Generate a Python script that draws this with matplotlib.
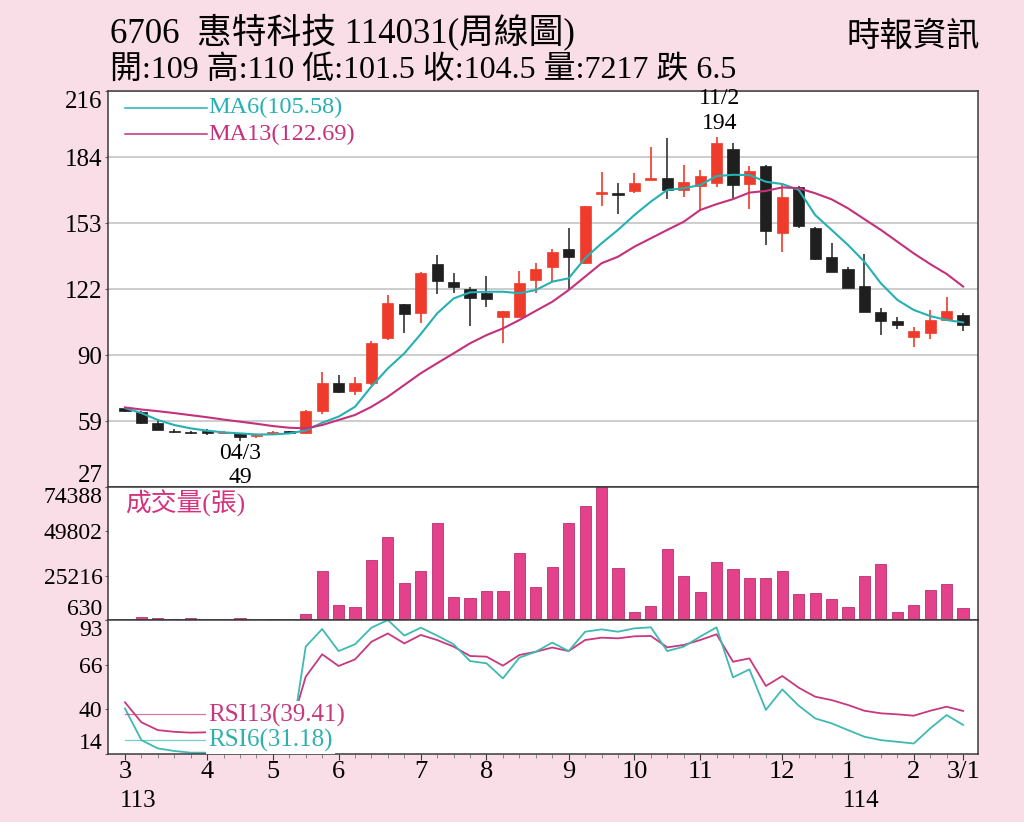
import numpy as np
import matplotlib
matplotlib.use("Agg")
import matplotlib.pyplot as plt
import matplotlib.transforms as mtransforms

plt.rcParams.update({
    "font.family": ["Liberation Serif", "Noto Sans CJK TC", "DejaVu Sans"],
})

# ---- data (weekly, 113/3 .. 114/3) ----
opens = [64.6, 62.9, 57.7, 53.8, 53.1, 53.2, 52.9, 52.6, 51.2, 52.2, 53.3, 53.0, 63.4,
         76.5, 73.0, 76.8, 98.3, 114.3, 109.9, 133.3, 125.0, 121.4, 119.4, 108.3, 108.3,
         125.8, 132.2, 140.4, 134.0, 167.0, 167.0, 168.4, 173.7, 174.7, 168.8, 170.7,
         172.2, 188.3, 171.6, 180.0, 148.4, 170.0, 150.8, 136.6, 130.9, 123.0, 110.4,
         106.2, 98.4, 100.4, 106.7, 109.0]
highs = [65.0, 63.5, 59.3, 54.5, 53.6, 54.5, 53.6, 53.0, 51.8, 53.8, 53.8, 63.6, 82.0,
         80.5, 79.3, 96.8, 118.6, 114.5, 129.5, 137.7, 129.3, 122.3, 127.7, 111.1, 130.3,
         134.0, 140.4, 150.5, 161.3, 177.5, 172.2, 177.0, 189.5, 193.5, 180.6, 178.3,
         194.0, 191.3, 180.0, 180.5, 172.2, 170.5, 151.0, 143.6, 131.8, 138.2, 112.3,
         108.0, 103.5, 111.5, 117.5, 110.0]
lows = [63.0, 57.0, 54.0, 52.8, 52.5, 52.0, 52.5, 49.0, 50.5, 52.0, 52.5, 52.2, 61.8,
        72.0, 70.9, 75.7, 97.2, 100.4, 105.4, 119.0, 119.5, 103.8, 112.8, 95.6, 108.0,
        119.5, 125.0, 121.0, 133.5, 161.1, 157.1, 167.5, 173.6, 164.3, 165.4, 158.9,
        170.0, 164.8, 159.5, 142.5, 139.3, 150.5, 135.3, 129.5, 121.8, 110.5, 99.5,
        102.3, 94.0, 97.5, 106.5, 101.5]
closes = [63.4, 57.7, 54.2, 53.2, 52.8, 53.0, 53.1, 51.0, 51.5, 53.4, 53.0, 63.4, 76.5,
          72.5, 76.8, 95.7, 114.7, 109.6, 129.0, 125.5, 122.6, 117.0, 116.6, 111.1, 124.5,
          131.0, 139.3, 136.9, 161.3, 167.4, 166.6, 172.2, 174.1, 168.8, 172.4, 175.4,
          191.4, 171.1, 178.0, 149.2, 165.3, 151.6, 135.8, 129.8, 122.0, 110.7, 106.4,
          104.3, 101.6, 106.7, 111.1, 104.5]
volumes = [400, 2470, 1750, 1350, 1580, 600, 900, 1580, 500, 1350, 400, 3820, 27620,
           9010, 8060, 34160, 46620, 21140, 27620, 54670, 13650, 13090, 16840, 16840,
           37900, 18680, 30080, 54670, 63610, 74388, 29520, 5270, 8290, 40300, 25220,
           16110, 33040, 28960, 23710, 24100, 27840, 14990, 15550, 12530, 7900, 24830,
           31530, 5270, 9010, 17560, 20580, 7217]
ma6 = [64.7, 62.3, 59.0, 56.6, 55.0, 53.9, 53.1, 52.6, 52.1, 52.1, 52.6, 54.0, 57.7,
       60.6, 65.3, 75.0, 83.6, 90.8, 100.0, 109.9, 117.0, 119.9, 120.2, 120.2, 119.5,
       121.0, 125.0, 126.6, 136.2, 143.3, 149.7, 156.8, 163.2, 168.8, 169.6, 171.1,
       175.4, 176.0, 175.9, 172.7, 171.6, 168.8, 156.8, 149.7, 142.5, 134.5, 124.2,
       116.3, 111.5, 108.6, 106.7, 105.58]
ma13 = [65.0, 64.0, 63.2, 62.3, 61.3, 60.3, 59.2, 58.2, 57.2, 56.1, 55.3, 55.0, 56.6,
        59.0, 61.4, 65.3, 70.1, 75.7, 81.3, 86.1, 90.8, 95.6, 99.5, 102.7, 106.7, 111.1,
        115.4, 121.0, 127.4, 133.8, 136.9, 141.7, 145.7, 149.7, 153.6, 159.2, 162.0,
        164.4, 167.5, 168.3, 170.0, 169.6, 167.2, 164.3, 160.0, 154.8, 149.7, 144.1,
        138.5, 133.4, 128.7, 122.69]
rsi6 = [40.9, 22.2, 17.3, 15.8, 14.8, 14.8, 14.6, 14.3, 14.2, 14.8, 14.5, 77.3, 87.7,
        74.7, 78.7, 88.5, 93.0, 83.8, 88.5, 83.8, 78.7, 68.8, 67.5, 58.6, 70.8, 74.3,
        79.7, 74.7, 86.1, 87.5, 86.1, 88.1, 88.7, 74.7, 77.3, 83.2, 88.7, 59.2, 63.9,
        40.0, 52.1, 42.5, 35.0, 32.1, 28.1, 24.2, 22.2, 21.2, 20.2, 29.1, 37.0, 31.18]
rsi13 = [44.5, 32.7, 28.1, 27.1, 26.6, 26.8, 26.6, 26.3, 26.2, 26.8, 26.6, 59.6, 72.8,
         65.9, 69.8, 80.2, 85.1, 79.2, 84.2, 81.2, 77.3, 71.8, 71.4, 66.1, 72.4, 74.3,
         76.8, 74.7, 81.2, 82.6, 82.2, 83.4, 83.6, 76.9, 78.3, 81.2, 84.6, 68.4, 70.4,
         54.1, 60.0, 53.1, 47.8, 45.8, 42.9, 39.5, 38.0, 37.4, 36.6, 39.5, 41.9, 39.41]

month_idx = [0, 5, 9, 13, 18, 22, 27, 31, 35, 40, 44, 48, 51]
month_labels = ["3", "4", "5", "6", "7", "8", "9", "10", "11", "12", "1", "2", "3/1"]
year_marks = [(0, "113"), (44, "114")]

price_ticks = [27, 58.5, 90, 121.5, 153, 184.5, 216]
price_labels = ["27", "59", "90", "122", "153", "184", "216"]
vol_ticks = [630, 25216, 49802, 74388]
rsi_ticks = [14, 40.33, 66.67, 93]
rsi_labels = ["14", "40", "66", "93"]

title1 = "6706  惠特科技 114031(周線圖)"
title2 = "開:109 高:110 低:101.5 收:104.5 量:7217 跌 6.5"
source = "時報資訊"

# ---- colours ----
BG = "#f9dde7"
RED = "#ee3b2b"
BLACK = "#1f1f1f"
CYAN = "#25b0b3"
MAGENTA = "#c4307b"
BAR = "#e4418b"
SPINE = "#3a3a3a"

x = np.arange(len(closes))
o = np.array(opens)
c = np.array(closes)
up = c >= o

fig = plt.figure(figsize=(10.24, 8.22), dpi=100, facecolor=BG)
L, W = 0.1055, 0.8496
ax_p = fig.add_axes([L, 0.4075, W, 0.4818])
ax_v = fig.add_axes([L, 0.2457, W, 0.1618], sharex=ax_p)
ax_r = fig.add_axes([L, 0.0827, W, 0.1630], sharex=ax_p)

for ax in (ax_p, ax_v, ax_r):
    ax.set_facecolor("white")
    for s in ax.spines.values():
        s.set_color(SPINE)
        s.set_linewidth(1.1)
    ax.tick_params(axis="y", length=2, width=0.8, color="#666666", pad=2)
ax_p.set_xlim(-1.03, len(closes) - 0.09)

# ---- price panel ----
body_col = np.where(up, RED, BLACK)
wick_col = np.where(up, RED, "#333333")
ax_p.vlines(x, lows, highs, colors=wick_col, lw=1.2, zorder=2)
ax_p.bar(x, np.maximum(np.abs(c - o), 0.6), bottom=np.minimum(o, c), width=0.68,
         color=body_col, edgecolor=body_col, lw=0.5, zorder=3)
ax_p.plot(x, ma6, color=CYAN, lw=1.5, zorder=4)
ax_p.plot(x, ma13, color=MAGENTA, lw=1.5, zorder=4)
ax_p.set_ylim(27, 216)
ax_p.set_yticks(price_ticks, price_labels, fontsize=18)
ax_p.grid(axis="y", color="#c9c9c9", lw=1.3)
ax_p.set_axisbelow(True)
ax_p.tick_params(axis="x", bottom=False, labelbottom=False)
ylab = ax_p.get_yticklabels()
ylab[0].set_va("bottom")
ylab[-1].set_va("top")

# legend
ax_p.plot([0.020, 0.114], [0.958, 0.958], color=CYAN, lw=1.1, transform=ax_p.transAxes)
ax_p.plot([0.020, 0.114], [0.891, 0.891], color=MAGENTA, lw=1.1, transform=ax_p.transAxes)
ax_p.text(0.115, 0.958, "MA6(105.58)", color=CYAN, fontsize=17.5, va="center",
          transform=ax_p.transAxes)
ax_p.text(0.115, 0.891, "MA13(122.69)", color=MAGENTA, fontsize=17.5, va="center",
          transform=ax_p.transAxes)

# high / low marks
hi = int(np.argmax(highs))
lo = int(np.argmin(lows))
ax_p.annotate("11/2", (hi, highs[hi]), xytext=(2, 28), textcoords="offset points",
              ha="center", va="center", fontsize=17)
ax_p.annotate(f"{highs[hi]:.0f}", (hi, highs[hi]), xytext=(2, 10), textcoords="offset points",
              ha="center", va="center", fontsize=17)
ax_p.annotate("04/3", (lo, lows[lo]), xytext=(0, -9), textcoords="offset points",
              ha="center", va="center", fontsize=17)
ax_p.annotate(f"{lows[lo]:.0f}", (lo, lows[lo]), xytext=(0, -26), textcoords="offset points",
              ha="center", va="center", fontsize=17)

# ---- volume panel ----
ax_v.bar(x, volumes, width=0.68, color=BAR, edgecolor="#b8306e", lw=0.6)
ax_v.set_ylim(630, 74388)
ax_v.set_yticks(vol_ticks, [str(t) for t in vol_ticks], fontsize=17)
ax_v.tick_params(axis="x", bottom=False, labelbottom=False)
vlab = ax_v.get_yticklabels()
vlab[0].set_va("bottom")
vlab[-1].set_va("top")
ax_v.text(0.020, 0.875, "成交量(張)", color="#d6317f", fontsize=18.5, va="center",
          transform=ax_v.transAxes)

# ---- RSI panel ----
ax_r.plot(x, rsi13, color="#c8387f", lw=1.3)
ax_r.plot(x, rsi6, color="#3fb9b3", lw=1.3)
ax_r.set_ylim(14, 93)
ax_r.set_yticks(rsi_ticks, rsi_labels, fontsize=17)
rlab = ax_r.get_yticklabels()
rlab[0].set_va("bottom")
rlab[-1].set_va("top")

ax_r.plot([0.020, 0.114], [0.299, 0.299], color="#c8387f", lw=0.9, alpha=0.7,
          transform=ax_r.transAxes)
ax_r.plot([0.020, 0.114], [0.104, 0.104], color="#3fb9b3", lw=0.9, alpha=0.7,
          transform=ax_r.transAxes)
box = dict(facecolor="white", edgecolor="none", pad=1.5)
ax_r.text(0.115, 0.291, "RSI13(39.41)", color="#c8387f", fontsize=18, va="center",
          transform=ax_r.transAxes, bbox=box, zorder=5)
ax_r.text(0.115, 0.100, "RSI6(31.18)", color="#2fb0ad", fontsize=18, va="center",
          transform=ax_r.transAxes, bbox=box, zorder=5)

ax_r.set_xticks(month_idx, month_labels, fontsize=19)
ax_r.set_xticks(x, minor=True)
ax_r.tick_params(axis="x", which="major", length=4, pad=1, color=SPINE)
ax_r.tick_params(axis="x", which="minor", length=3, color="#777777")
tr = mtransforms.blended_transform_factory(ax_r.transData, ax_r.transAxes)
for idx, yr in year_marks:
    ax_r.text(idx - 0.3, -0.35, yr, fontsize=18, ha="left", va="center", transform=tr)

# ---- header ----
fig.text(0.1074, 0.961, title1, fontsize=25, va="center")
fig.text(0.1074, 0.915, title2, fontsize=23, va="center")
fig.text(0.957, 0.955, source, fontsize=24, ha="right", va="center")

fig.savefig("out.png", dpi=100, facecolor=BG)
